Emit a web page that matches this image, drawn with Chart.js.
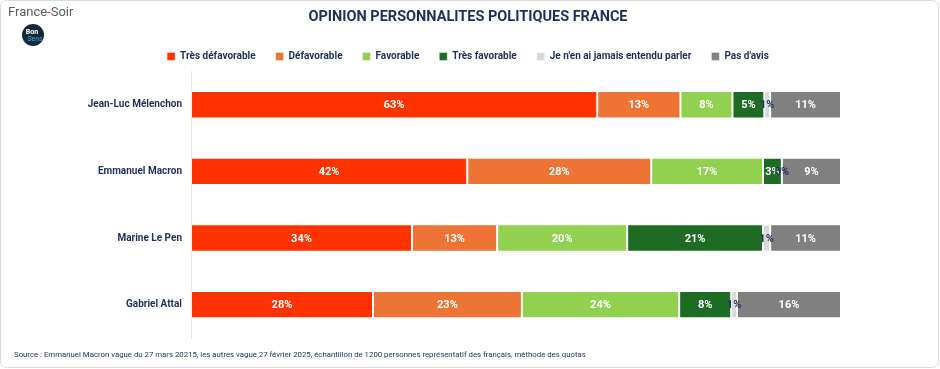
<!DOCTYPE html>
<html>
<head>
<meta charset="utf-8">
<script src="https://cdn.jsdelivr.net/npm/chart.js@4"></script>
<style>
  html, body { margin: 0; padding: 0; background: #fff; }
</style>
</head>
<body>
<canvas id="myChart" width="940" height="369"></canvas>
<script>
const people = ['Jean-Luc Mélenchon', 'Emmanuel Macron', 'Marine Le Pen', 'Gabriel Attal'];

const tresDefavorable = [62.5, 42.5, 34.0, 28.0];
const defavorable     = [12.8, 28.3, 13.1, 22.9];
const favorable       = [8.0, 17.2, 20.0, 24.2];
const tresFavorable   = [4.9, 2.9, 20.9, 8.0];
const jamaisEntendu   = [0.9, 0.0, 1.1, 0.9];
const pasDavis        = [10.9, 9.1, 10.9, 16.0];

const shownLabels = {
  tresDefavorable: ['63%', '42%', '34%', '28%'],
  defavorable: ['13%', '28%', '13%', '23%'],
  favorable: ['8%', '17%', '20%', '24%'],
  tresFavorable: ['5%', '3%', '21%', '8%'],
  jamaisEntendu: ['1%', '0%', '1%', '1%'],
  pasDavis: ['11%', '9%', '11%', '16%']
};

const navy = '#1f2f5c';
const fontFam = 'Roboto, "Liberation Sans", sans-serif';

function ds(label, data, color, key, txtColor) {
  return {
    label: label,
    data: data,
    backgroundColor: color,
    borderColor: 'rgba(255,255,255,0.45)',
    borderWidth: 1,
    borderSkipped: false,
    barPercentage: 0.82,
    categoryPercentage: 0.5,
    txt: shownLabels[key],
    txtColor: txtColor
  };
}

// draw the percent labels inside the bars
const valueLabels = {
  id: 'valueLabels',
  afterDatasetsDraw(chart) {
    const c = chart.ctx;
    c.save();
    c.textAlign = 'center';
    c.textBaseline = 'middle';
    c.font = 'bold 11px ' + fontFam;
    chart.data.datasets.forEach((d, i) => {
      const meta = chart.getDatasetMeta(i);
      meta.data.forEach((bar, j) => {
        const x = (bar.x + bar.base) / 2;
        c.fillStyle = d.txtColor;
        c.fillText(d.txt[j], x, bar.y + 1);
      });
    });
    c.restore();
  }
};

// title + legend are centred on the whole picture, not on the plot box
const recenter = {
  id: 'recenter',
  afterLayout(chart) {
    [chart.titleBlock, chart.legend].forEach(b => {
      if (b) { b.left = 95; b.right = 841; }
    });
  }
};

// logo, source line, frame
const decor = {
  id: 'decor',
  beforeDraw(chart) {
    const c = chart.ctx;
    c.save();
    c.fillStyle = '#fff';
    c.fillRect(0, 0, chart.width, chart.height);
    c.strokeStyle = '#dcdcdc';
    c.lineWidth = 1;
    c.beginPath();
    c.roundRect(0.5, 0.5, chart.width - 2, chart.height - 2, 6);
    c.stroke();
    c.restore();
  },
  afterDraw(chart) {
    const c = chart.ctx;
    c.save();
    // France-Soir
    c.font = '13px ' + fontFam;
    c.textBaseline = 'alphabetic';
    c.textAlign = 'left';
    c.fillStyle = '#5e5e5e';
    c.fillText('France', 8, 16);
    let w = c.measureText('France').width;
    c.fillStyle = '#e8302a';
    c.fillText('-', 8 + w, 16);
    let w2 = c.measureText('-').width;
    c.fillStyle = '#5e5e5e';
    c.fillText('Soir', 8 + w + w2, 16);
    // Bon Sens badge
    c.fillStyle = '#102a3a';
    c.beginPath();
    c.arc(33, 35, 11, 0, Math.PI * 2);
    c.fill();
    c.textAlign = 'center';
    c.font = 'bold 7px ' + fontFam;
    c.fillStyle = '#fff';
    c.fillText('Bon', 32, 34);
    c.font = 'italic 7px ' + fontFam;
    c.fillStyle = '#39b5e0';
    c.fillText('Sens', 35, 41);
    // source
    c.textAlign = 'left';
    c.font = '7.8px ' + fontFam;
    c.fillStyle = navy;
    c.fillText('Source : Emmanuel Macron vague du 27 mars 20215, les autres vague 27 février 2025, échantillon de 1200 personnes représentatif des français, méthode des quotas', 14, 357);
    c.restore();
  }
};

new Chart(document.getElementById('myChart'), {
  type: 'bar',
  data: {
    labels: people,
    datasets: [
      ds('Très défavorable', tresDefavorable, '#ff3300', 'tresDefavorable', '#ffffff'),
      ds('Défavorable', defavorable, '#ed7434', 'defavorable', '#ffffff'),
      ds('Favorable', favorable, '#92d050', 'favorable', '#ffffff'),
      ds('Très favorable', tresFavorable, '#1e6b24', 'tresFavorable', '#ffffff'),
      ds("Je n'en ai jamais entendu parler", jamaisEntendu, '#d9d9d9', 'jamaisEntendu', navy),
      ds("Pas d'avis", pasDavis, '#808080', 'pasDavis', '#ffffff')
    ]
  },
  options: {
    indexAxis: 'y',
    responsive: false,
    animation: false,
    devicePixelRatio: 1,
    layout: { padding: { left: 0, right: 99, top: 1, bottom: 31 } },
    scales: {
      x: {
        stacked: true,
        min: 0,
        max: 100,
        display: false
      },
      y: {
        stacked: true,
        grid: { display: false, drawTicks: false },
        border: { display: true, color: '#e6e6e6' },
        afterFit: (s) => { s.width = 191; },
        ticks: {
          color: navy,
          padding: 9,
          font: { family: fontFam, size: 10, weight: 'bold' }
        }
      }
    },
    plugins: {
      title: {
        display: true,
        text: 'OPINION PERSONNALITES POLITIQUES FRANCE',
        color: navy,
        padding: { top: 8, bottom: 5 },
        font: { family: fontFam, size: 14.5, weight: 'bold' }
      },
      legend: {
        display: true,
        labels: {
          color: navy,
          boxWidth: 8,
          boxHeight: 8,
          padding: 20,
          font: { family: fontFam, size: 10, weight: 'bold' }
        }
      },
      tooltip: { enabled: false }
    }
  },
  plugins: [decor, recenter, valueLabels]
});
</script>
</body>
</html>
